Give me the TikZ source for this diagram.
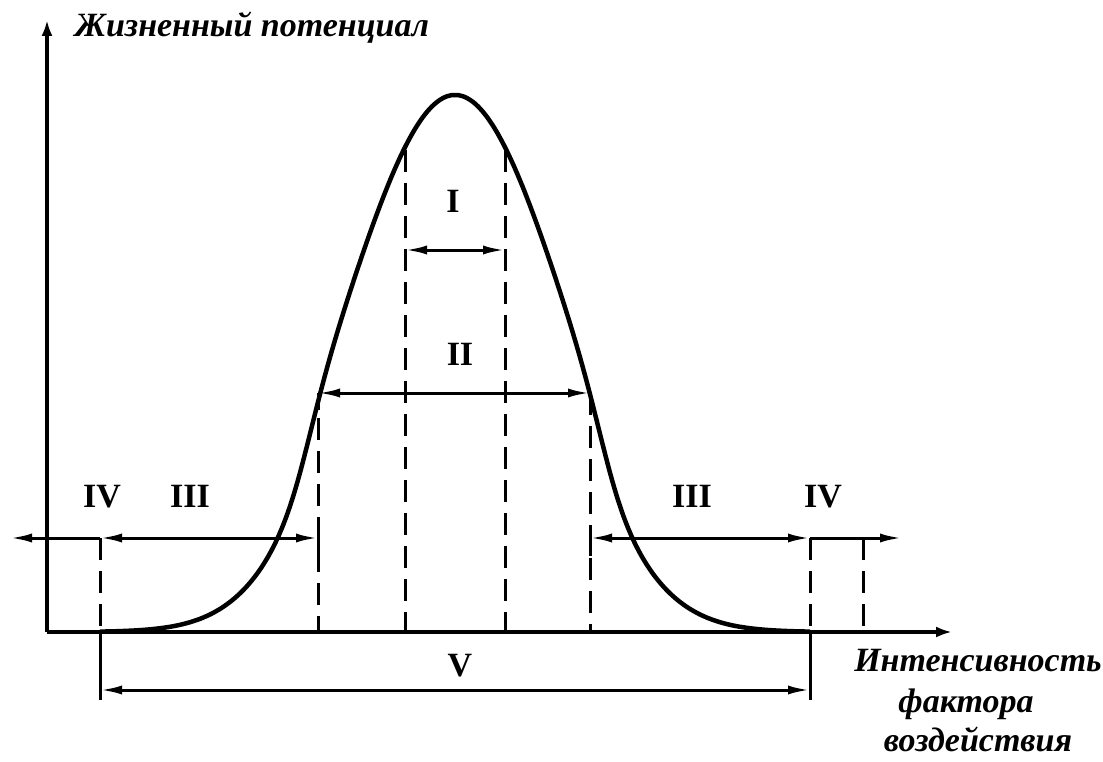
\documentclass[tikz,border=0pt]{standalone}
\usepackage{fontspec}
\setmainfont{Liberation Serif}
\usetikzlibrary{arrows.meta}
\tikzset{
  axisline/.style={line width=4pt, -{Latex[length=16pt,width=11pt]}},
  curveline/.style={line width=4.5pt, line join=round},
  spanline/.style={line width=3pt, {Latex[length=22pt,width=9pt]}-{Latex[length=22pt,width=9pt]}},
  outline/.style={line width=3pt, -{Latex[length=22pt,width=9pt]}},
  dashline/.style={line width=3pt, dash pattern=on 22pt off 11pt},
  solidv/.style={line width=3pt},
  roman/.style={font=\fontsize{34}{38}\selectfont\bfseries, inner sep=0pt, anchor=base},
  axlabel/.style={font=\fontsize{34}{40}\selectfont\bfseries\itshape, inner sep=0pt, anchor=base}
}
\begin{document}
\begin{tikzpicture}[x=1pt,y=-1pt]
\useasboundingbox (0,0) rectangle (1103,762);
% coordinates
\coordinate (O) at (47,632);
\coordinate (Ytip) at (47,20);
\coordinate (Xtip) at (952,632);
% axes
\draw[axisline] (O) -- (Ytip);
\draw[axisline] (O) -- (Xtip);
% curve
\draw[curveline] plot[domain=-3.55:3.55, samples=181, smooth]
  ({455+100*\x}, {632-537*exp(-(0.41+0.08*(1+tanh((abs(\x)-1.5)/0.25)))*\x*\x)});
% key coordinates
\coordinate (Ia) at (405,250); \coordinate (Ib) at (505,250);
\coordinate (IaT) at (405,150); \coordinate (IbT) at (505,150);
\coordinate (IaB) at (405,632); \coordinate (IbB) at (505,632);
\coordinate (IIa) at (318,393); \coordinate (IIb) at (590,393);
\coordinate (IIaB) at (318,632); \coordinate (IIbB) at (590,632);
\coordinate (IIIa) at (318,538); \coordinate (IIIb) at (590,538);
\coordinate (L100) at (100,538); \coordinate (R810) at (810,538);
\coordinate (Lend) at (10,538); \coordinate (Rend) at (902,538);
\coordinate (L100B) at (100,632); \coordinate (R810B) at (810,632);
\coordinate (L100V) at (100,700); \coordinate (R810V) at (810,700);
\coordinate (Va) at (100,690); \coordinate (Vb) at (810,690);
\coordinate (R863) at (863,538); \coordinate (R863B) at (863,632);
% dashed verticals
\draw[dashline] (IaT) -- (IaB);
\draw[dashline] (IbT) -- (IbB);
\draw[solidv] (IIa) -- (318,410);
\draw[dashline] (318,418) -- (IIaB);
\draw[dashline] (IIb) -- (IIbB);
\draw[dashline] (L100) -- (L100B);
\draw[dashline] (R810) -- (R810B);
\draw[dashline] (R863) -- (R863B);
\draw[solidv] (L100B) -- (L100V);
\draw[solidv] (R810B) -- (R810V);
% span arrows
\draw[spanline] (Ia) -- (Ib);
\draw[solidv] (Ia) -- (405,262);
\draw[solidv] (Ib) -- (505,262);
\draw[spanline] (IIa) -- (IIb);
\draw[spanline] (L100) -- (IIIa);
\draw[solidv] (IIIa) -- (318,556);
\draw[spanline] (IIIb) -- (R810);
\draw[solidv] (IIIb) -- (590,556);
\draw[outline] (L100) -- (Lend);
\draw[outline] (R810) -- (Rend);
\draw[spanline] (Va) -- (Vb);
% labels
\node[roman] (lI) at (453,213) {I};
\node[roman] (lII) at (460,365) {II};
\node[roman] (lIVa) at (102,507) {IV};
\node[roman] (lIIIa) at (190,507) {III};
\node[roman] (lIIIb) at (692,507) {III};
\node[roman] (lIVb) at (823,507) {IV};
\node[roman] (lV) at (460,676) {V};
\node[axlabel] (ylab) at (252,37) {Жизненный потенциал};
\node[axlabel] (xlab1) at (978,671) {Интенсивность};
\node[axlabel] (xlab2) at (966,712) {фактора};
\node[axlabel] (xlab3) at (978,751) {воздействия};
\end{tikzpicture}
\end{document}
